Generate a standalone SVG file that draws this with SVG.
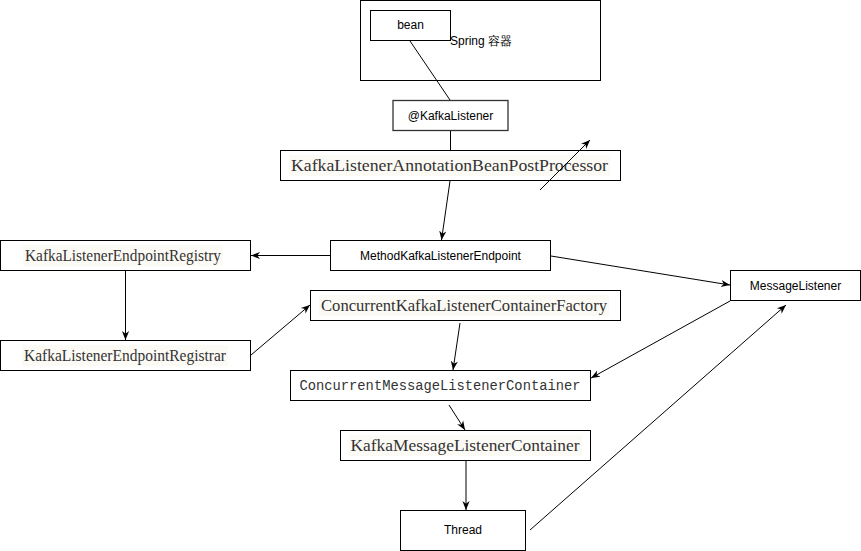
<svg xmlns="http://www.w3.org/2000/svg" width="861" height="551" viewBox="0 0 861 551">
<style>
.box{fill:#ffffff;stroke:#000000;stroke-width:1}
.sans{font-family:"Liberation Sans",Arial,sans-serif;font-size:12px;fill:#000000;text-anchor:middle}
.serif{font-family:"Liberation Serif","Times New Roman",serif;font-size:17px;fill:#333333;text-anchor:middle}
.mono{font-family:"Liberation Mono","Courier New",monospace;font-size:13.8px;fill:#333333;text-anchor:middle}
.bg{fill:#fcfaf5;stroke:none}
.edge{fill:none;stroke:#000000;stroke-width:1}
.arr{marker-end:url(#ah)}
</style>
<defs>
<marker id="ah" viewBox="0 0 10 10" refX="10" refY="5" markerWidth="9" markerHeight="9" markerUnits="userSpaceOnUse" orient="auto">
<path d="M0,1 L10,5 L0,9 L3,5 z" fill="#000000"/>
</marker>
</defs>
<rect width="861" height="551" fill="#ffffff"/>

<g id="spring-container">
<rect class="box" x="360.5" y="0.5" width="240" height="80"/>
<text class="sans" x="450" y="45" style="text-anchor:start">Spring 容器</text>
</g>
<g id="bean">
<rect class="box" x="370.5" y="10.5" width="80" height="30"/>
<text class="sans" x="410.5" y="29">bean</text>
</g>
<g id="kafka-listener">
<rect class="box" x="393" y="100.5" width="115" height="30" style="stroke:#333333;stroke-width:1.3"/>
<text class="sans" x="450.5" y="119.5">@KafkaListener</text>
</g>
<g id="annotation-bpp">
<rect class="box" x="280.5" y="150.5" width="340" height="30"/>
<rect class="bg" x="289" y="155" width="321" height="21"/>
<text class="serif" x="449.5" y="171" textLength="317" lengthAdjust="spacingAndGlyphs">KafkaListenerAnnotationBeanPostProcessor</text>
</g>
<g id="method-endpoint">
<rect class="box" x="330.5" y="240.5" width="220" height="30"/>
<text class="sans" x="440.5" y="259.5">MethodKafkaListenerEndpoint</text>
</g>
<g id="endpoint-registry">
<rect class="box" x="0.5" y="240.5" width="250" height="30"/>
<rect class="bg" x="23" y="245" width="200" height="21"/>
<text class="serif" x="123" y="261" textLength="196" lengthAdjust="spacingAndGlyphs">KafkaListenerEndpointRegistry</text>
</g>
<g id="endpoint-registrar">
<rect class="box" x="0.5" y="340.5" width="250" height="30"/>
<rect class="bg" x="22" y="345" width="206" height="21"/>
<text class="serif" x="125" y="361" textLength="202" lengthAdjust="spacingAndGlyphs">KafkaListenerEndpointRegistrar</text>
</g>
<g id="container-factory">
<rect class="box" x="310.5" y="290.5" width="310" height="30"/>
<rect class="bg" x="319" y="295" width="290" height="21"/>
<text class="serif" x="464" y="311" textLength="286" lengthAdjust="spacingAndGlyphs">ConcurrentKafkaListenerContainerFactory</text>
</g>
<g id="message-listener">
<rect class="box" x="730.5" y="270.5" width="130" height="30"/>
<text class="sans" x="795.5" y="289.5">MessageListener</text>
</g>
<g id="concurrent-container">
<rect class="box" x="290.5" y="370.5" width="300" height="30"/>
<text class="mono" x="440" y="390" textLength="281" lengthAdjust="spacingAndGlyphs">ConcurrentMessageListenerContainer</text>
</g>
<g id="kafka-container">
<rect class="box" x="340.5" y="430.5" width="250" height="30"/>
<rect class="bg" x="349" y="435" width="233" height="21"/>
<text class="serif" x="465" y="451" textLength="229" lengthAdjust="spacingAndGlyphs">KafkaMessageListenerContainer</text>
</g>
<g id="thread">
<rect class="box" x="400.5" y="510.5" width="125" height="40"/>
<text class="sans" x="463" y="534">Thread</text>
</g>

<g id="connectors">
<line class="edge" x1="410" y1="41" x2="450" y2="100"/>
<line class="edge" x1="450.5" y1="131" x2="450.5" y2="150"/>
<line class="edge arr" x1="540" y1="190" x2="590" y2="140"/>
<line class="edge arr" x1="450" y1="181" x2="441.5" y2="240"/>
<line class="edge arr" x1="330" y1="255.5" x2="251" y2="255.5"/>
<line class="edge arr" x1="125.5" y1="271" x2="125.5" y2="340"/>
<line class="edge arr" x1="251" y1="355" x2="310" y2="305"/>
<line class="edge arr" x1="551" y1="256" x2="730" y2="285"/>
<line class="edge arr" x1="460" y1="323" x2="453" y2="370"/>
<line class="edge arr" x1="730" y1="301" x2="591" y2="378"/>
<line class="edge arr" x1="449" y1="405" x2="465" y2="430"/>
<line class="edge arr" x1="466" y1="461" x2="466" y2="510"/>
<line class="edge arr" x1="530" y1="530" x2="786" y2="305"/>
</g>
</svg>
